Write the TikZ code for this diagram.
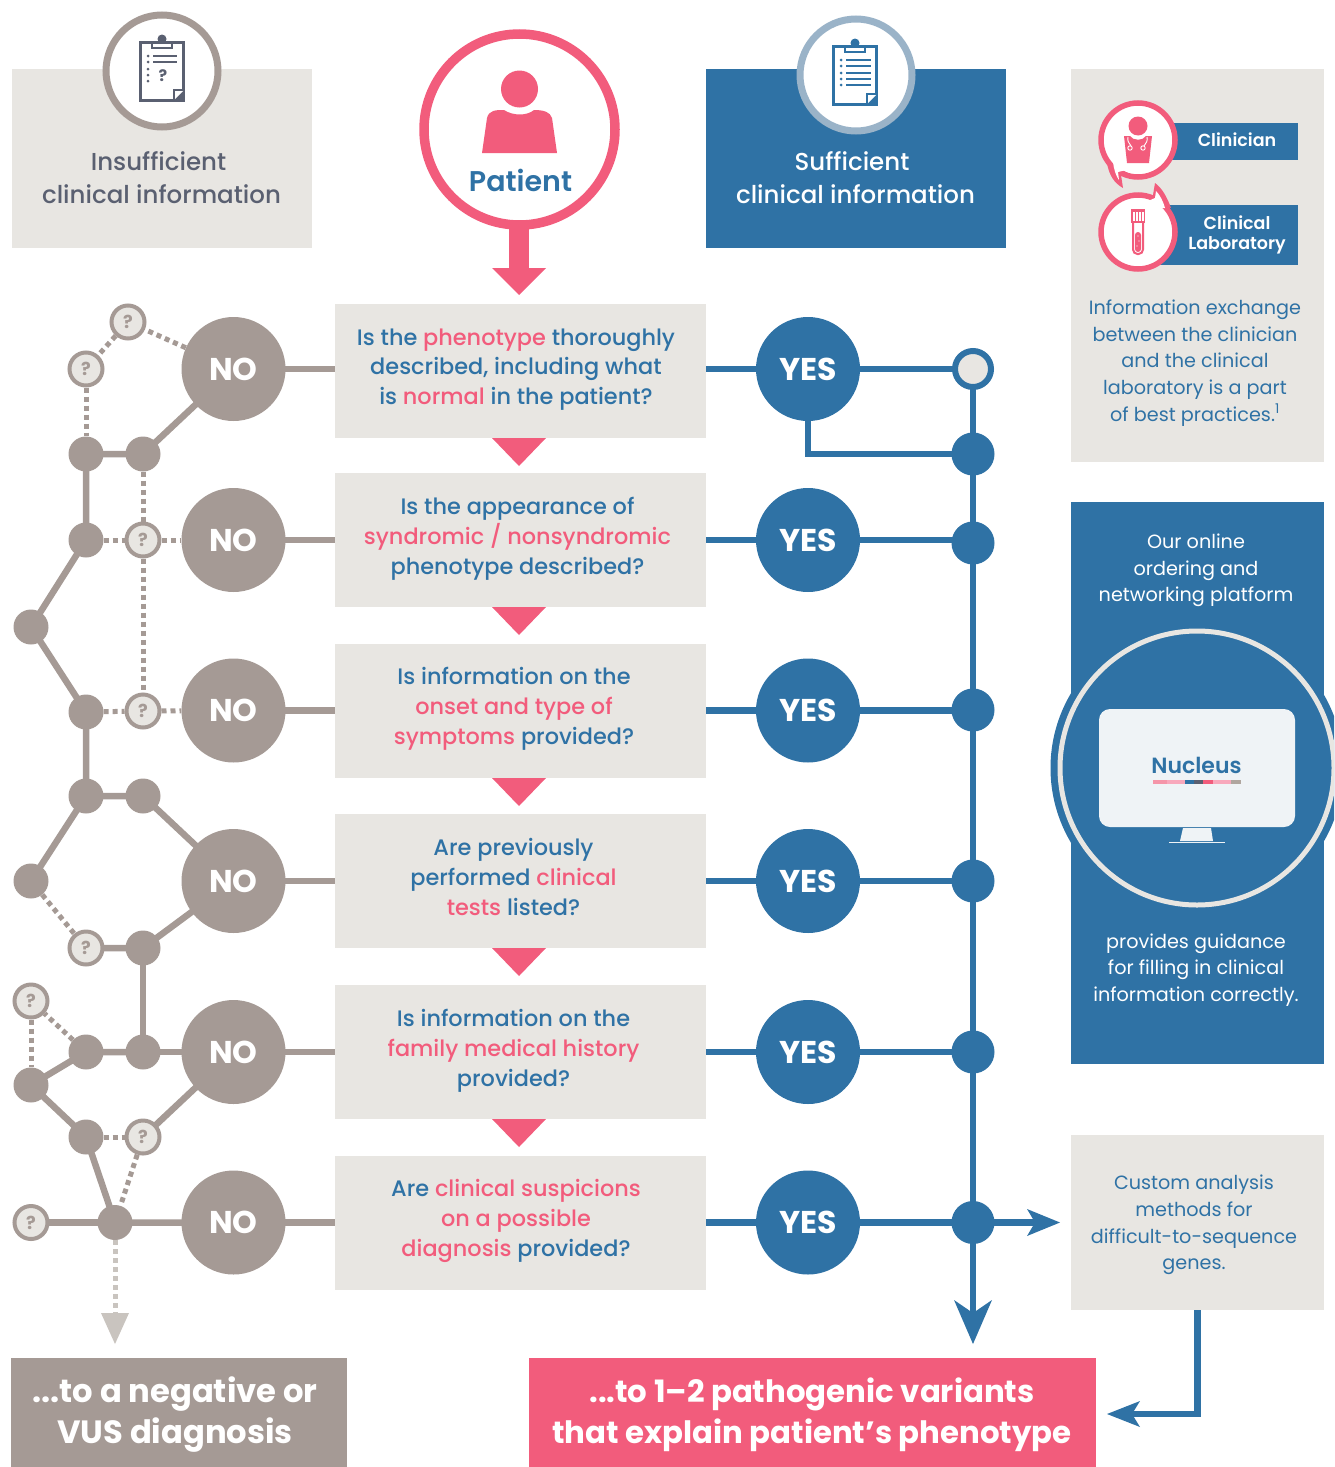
\documentclass[tikz,border=0pt]{standalone}
\usepackage{fontspec}
\setmainfont{Poppins}
\newfontfamily\medf{Poppins Medium}
\newfontfamily\semi{Poppins SemiBold}
\usetikzlibrary{backgrounds}
\definecolor{cpink}{HTML}{F25C7C}
\definecolor{cblue}{HTML}{2F72A5}
\definecolor{cgray}{HTML}{A59A95}
\definecolor{clight}{HTML}{E8E6E2}
\definecolor{cdark}{HTML}{5A6071}
\definecolor{cring}{HTML}{9AB3C8}
\definecolor{cfade}{HTML}{C9C4BF}
\definecolor{cscreen}{HTML}{EFF3F6}
\definecolor{cpa}{HTML}{F595A9}
\definecolor{cpb}{HTML}{F8A8BC}
\definecolor{ctan}{HTML}{B0A69F}
\newcommand{\px}[1]{\fontsize{#1}{#1}\selectfont}
\newcommand{\pk}[1]{\textcolor{cpink}{#1}}
\tikzset{
  panel/.style={draw=none,inner sep=0pt,outer sep=0pt},
  qbox/.style={panel,fill=clight,minimum width=371pt,minimum height=134pt},
  qtext/.style={align=center,text=cblue,inner sep=0pt,font=\fontsize{22.4}{29.8}\selectfont\medf},
  nocirc/.style={circle,fill=cgray,inner sep=0pt,minimum size=104pt,text=white,font=\px{31.5}\bfseries},
  yescirc/.style={circle,fill=cblue,inner sep=0pt,minimum size=104pt,text=white,font=\px{31.5}\bfseries},
  dot/.style={circle,fill=cgray,inner sep=0pt,minimum size=35pt},
  bdot/.style={circle,fill=cblue,inner sep=0pt,minimum size=43pt},
  qm/.style={circle,draw=cgray,line width=4pt,fill=clight,inner sep=0pt,minimum size=33pt,text=cgray,font=\px{18}\bfseries},
  sol/.style={draw=cgray,line width=6.5pt},
  dots/.style={draw=cgray,line width=5pt,dash pattern=on 5pt off 4pt},
  bl/.style={draw=cblue,line width=6.5pt},
  headtext/.style={align=center,inner sep=0pt,font=\fontsize{24.5}{33}\selectfont\medf},
  sidetext/.style={align=center,inner sep=0pt,font=\fontsize{19.2}{26.7}\selectfont},
  bigtext/.style={align=center,inner sep=0pt,text=white,font=\bfseries},
}
\newcommand{\myboard}[5]{%
  \begin{scope}[shift={(#1,#2)}]
    \draw[#3,line width=3pt,fill=white] (140.5,42.5) rectangle (183.5,100);
    \fill[#3] (162,39) circle (4.5);
    \draw[#3,line width=2pt,fill=white] (152,42.5) rectangle (172,48);
    \fill[#3] (173,89) rectangle (185,101.5);
    \fill[white] (175,99) -- (175,91) -- (183,91) -- cycle;
    #4
    #5
  \end{scope}}
\begin{document}
\begin{tikzpicture}[x=1pt,y=-1pt]
\useasboundingbox (0,0) rectangle (1334,1467);
% header panels
\node[panel,fill=clight,minimum width=300pt,minimum height=179pt] (hl) at (162,158.5) {};
\node[panel,fill=cblue,minimum width=300pt,minimum height=179pt] (hr) at (856,158.5) {};
\node[circle,draw=cgray,line width=7pt,fill=white,minimum size=112pt,inner sep=0pt] (cl) at (162,71) {};
\node[circle,draw=cring,line width=7pt,fill=white,minimum size=112pt,inner sep=0pt] (cr) at (856,75) {};
\myboard{0}{0}{cdark}{%
  \foreach \yy in {56,62,69,75,81} \fill[cdark] (148,\yy) circle (1.5);
  \draw[cdark,line width=1.8pt] (153,56) -- (177,56) (153,62) -- (177,62);}
  {\node[text=cdark,inner sep=0pt,font=\px{16}\bfseries] (bq) at (163,76) {?};}
\myboard{693}{4}{cblue}{%
  \foreach \yy in {56,62,69,75,81} {\fill[cblue] (148,\yy) circle (1.5); \draw[cblue,line width=1.8pt] (153,\yy) -- (178,\yy);}}{}
\node[headtext,text=cdark] (tl) at (161.5,178) {Insufficient\hspace*{6pt}\\clinical information};
\node[headtext,text=white] (tr) at (855.5,178) {Sufficient\hspace*{7pt}\\clinical information};
% patient
\fill[cpink] (509,220) rectangle (529,268);
\fill[cpink] (492,268) -- (546,268) -- (519,295) -- cycle;
\node[circle,draw=cpink,line width=9.5pt,fill=white,minimum size=191pt,inner sep=0pt] (pat) at (519.5,129.5) {};
\fill[cpink] (519.5,89) circle (18.5);
\fill[cpink] (482,153) -- (487,118) .. controls (489,110) and (496,110) .. (504,110) .. controls (513,116) and (527,116) .. (534,110) .. controls (544,110) and (550,112) .. (552,118) -- (557,153) -- cycle;
\node[inner sep=0pt,text=cblue,font=\px{28.5}\semi] (pt) at (520.5,180) {Patient};
% question boxes
\foreach \n/\yy in {1/371,2/540,3/711,4/881,5/1052,6/1223} {
  \node[qbox] (q\n) at (520.5,\yy) {};
}
\foreach \yy in {438,607,778,948,1119} {
  \fill[cpink] (492,\yy) -- (546,\yy) -- (519,\yy+28) -- cycle;
}
\node[qtext] (t1) at (516,369.5) {Is the \pk{phenotype} thoroughly\\described, including what\\is \pk{normal} in the patient?};
\node[qtext] (t2) at (517.5,538.5) {Is the appearance of\\\pk{syndromic / nonsyndromic}\\phenotype described?};
\node[qtext] (t3) at (514,709) {Is information on the\\\pk{onset and type of}\\\pk{symptoms} provided?};
\node[qtext] (t4) at (513.5,879.5) {Are previously\\performed \pk{clinical}\\\pk{tests} listed?\vphantom{py}};
\node[qtext] (t5) at (513.5,1050.5) {Is information on the\\\pk{family medical history}\\provided?};
\node[qtext] (t6) at (516,1221) {Are \pk{clinical suspicions}\\\pk{on a possible}\\\pk{diagnosis} provided?};
% NO and YES
\foreach \n/\yy in {1/369,2/540,3/710.5,4/881,5/1052,6/1222.5} {
  \node[nocirc] (no\n) at (233.5,\yy) {NO};
  \node[yescirc] (yes\n) at (808,\yy) {YES};
}
% network nodes
\node[qm] (a1) at (128,322) {?};
\node[qm] (a2) at (86,369) {?};
\node[dot] (b1) at (86,454) {};
\node[dot] (b2) at (143,454) {};
\node[dot] (c1) at (86,540) {};
\node[qm] (c2) at (143,540) {?};
\node[dot] (d0) at (31,627) {};
\node[dot] (d1) at (86,712) {};
\node[qm] (d2) at (143,711) {?};
\node[dot] (e1) at (86,796) {};
\node[dot] (e2) at (143,796) {};
\node[dot] (f0) at (31,881) {};
\node[qm] (f1) at (86,948) {?};
\node[dot] (f2) at (143,948) {};
\node[qm] (g0) at (31,1001) {?};
\node[dot] (g1) at (86,1052) {};
\node[dot] (g2) at (143,1052) {};
\node[dot] (h0) at (31,1085) {};
\node[dot] (h1) at (86,1137) {};
\node[qm] (h2) at (143,1137) {?};
\node[qm] (i0) at (31,1222.5) {?};
\node[dot] (i1) at (115,1222.5) {};
\coordinate (tipg) at (115,1344);
% blue trunk nodes
\node[circle,draw=cblue,line width=6pt,fill=clight,minimum size=36pt,inner sep=0pt] (top) at (973,369) {};
\node[bdot] (v1) at (973,454) {};
\node[bdot] (v2) at (973,543) {};
\node[bdot] (v3) at (973,710) {};
\node[bdot] (v4) at (973,881) {};
\node[bdot] (v5) at (973,1052) {};
\node[bdot] (v6) at (973,1222.5) {};
\coordinate (tipb) at (973,1344);
\coordinate (tipr) at (1060,1222.5);
\begin{pgfonlayer}{background}
  \foreach \n in {1,...,6} {
    \draw[sol] (no\n.center) -- (q\n.west |- no\n.center);
    \draw[bl] (yes\n.center) -- (q\n.east |- yes\n.center);
  }
  \draw[sol] (no1.center) -- (b2.center) -- (b1.center) -- (c1.center) -- (d0.center) -- (d1.center) -- (e1.center) -- (e2.center) -- (no4.center);
  \draw[sol] (e1.center) -- (f0.center);
  \draw[sol] (f1.center) -- (f2.center) -- (no4.center);
  \draw[sol] (f2.center) -- (g2.center) -- (no5.center);
  \draw[sol] (g2.center) -- (g1.center) -- (h0.center) -- (h1.center) -- (i1.center) -- (no6.center);
  \draw[sol] (i0.center) -- (i1.center);
  \draw[sol] (h2.center) -- (no5.center);
  \draw[dots] (no1) -- (a1) ;
  \draw[dots] (a1) -- (a2);
  \draw[dots] (a2) -- (b1);
  \draw[dots] (b2) -- (c2);
  \draw[dots] (c2) -- (d2);
  \draw[dots] (c1) -- (c2);
  \draw[dots] (c2) -- (no2);
  \draw[dots] (d1) -- (d2);
  \draw[dots] (d2) -- (no3);
  \draw[dots] (f0) -- (f1);
  \draw[dots] (g1) -- (g0);
  \draw[dots] (g0) -- (h0);
  \draw[dots] (h1) -- (h2);
  \draw[dots] (h2) -- (i1);
  \draw[cfade,line width=5pt,dash pattern=on 5pt off 4pt] (i1) -- (115,1314);
  \fill[cfade] (101,1313) -- (129,1313) -- (tipg) -- cycle;
  % blue
  \draw[bl] (yes1.center) -- (top.center) -- (973,1320);
  \draw[bl] (yes1.center) -- (808,454) -- (v1.center);
  \foreach \n in {2,...,6} \draw[bl] (yes\n.center) -- (v\n.center |- yes\n.center);
  \draw[bl] (v6.center) -- (1040,1222.5);
  \fill[cblue] (tipr) -- (1027,1209) -- (1035,1222.5) -- (1027,1236) -- cycle;
  \fill[cblue] (tipb) -- (954,1300) -- (973,1313) -- (992,1300) -- cycle;
\end{pgfonlayer}
% side panel 1
\node[panel,fill=clight,minimum width=253pt,minimum height=393pt] (s1) at (1197.5,265.5) {};
\fill[cblue] (1150,123) rectangle (1298,160);
\fill[cblue] (1150,205) rectangle (1298,265);
\node[circle,draw=cpink,line width=5.5pt,fill=white,minimum size=74pt,inner sep=0pt] (clin) at (1138,140) {};
\fill[cpink] (1107,163) .. controls (1109,175) and (1114,183) .. (1123,188) -- (1121,175) -- (1130,174) -- cycle;
\fill[white] (1113,162) .. controls (1114,170) and (1116,176) .. (1119,180) -- (1118,172) -- (1126,170) -- (1122,158) -- cycle;
\node[circle,draw=cpink,line width=5.5pt,fill=white,minimum size=74pt,inner sep=0pt] (lab) at (1138,232) {};
\fill[cpink] (1155,183) .. controls (1162,188) and (1167,197) .. (1171,208) -- (1160,206) -- (1150,196) -- (1153,195) -- cycle;
\fill[white] (1156,191) .. controls (1160,195) and (1163,201) .. (1165,208) -- (1156,208) -- (1148,201) -- (1155,198) -- cycle;
% clinician icon
\fill[cpink] (1138,126) circle (9.5);
\fill[cpink] (1124,136) -- (1130,136) .. controls (1133,141) and (1143,141) .. (1146,136) -- (1152,136) -- (1149,163) -- (1127,163) -- cycle;
\draw[white,line width=0.9pt] (1128,137) .. controls (1127,141) and (1129,143) .. (1131,146);
\draw[white,line width=0.9pt] (1147,137) .. controls (1148,141) and (1146,143) .. (1144,146);
\draw[white,line width=0.9pt] (1130,148) circle (2.2) (1143,148) circle (2.2);
% tube icon
\fill[cpink] (1131,209) rectangle (1145,223);
\foreach \xx in {1134,1137,1140,1143} \fill[white] (\xx-0.6,211.5) rectangle (\xx+0.6,221);
\draw[cpink,line width=2pt,fill=white,rounded corners=4.5pt] (1133,223) -- (1133,254) -- (1143,254) -- (1143,223);
\fill[cpink,rounded corners=3pt] (1135,232) -- (1135,252) -- (1141,252) -- (1141,232) -- cycle;
\fill[white] (1138,236) circle (0.7) (1139,241) circle (0.7) (1137,246) circle (0.7);
\node[inner sep=0pt,text=white,font=\px{17.5}\semi] (lc) at (1237,140) {Clinician};
\node[inner sep=0pt,align=center,text=white,font=\fontsize{17.5}{19.5}\selectfont\semi] (ll) at (1237,235) {Clinical\\Laboratory};
\node[sidetext,text=cblue] (st1) at (1195,363) {Information exchange\\between the clinician\\and the clinical\\laboratory is a part\\of best practices.\textsuperscript{1}};
% side panel 2
\node[panel,fill=cblue,minimum width=253pt,minimum height=562pt] (s2) at (1197.5,783) {};
\node[sidetext,text=white] (st2) at (1196,570.5) {Our online\\ordering and\\networking platform};
\node[sidetext,text=white] (st3) at (1196,970) {provides guidance\\for filling in clinical\\information correctly.};
\begin{scope}
  \clip (0,0) rectangle (1334,1467);
  \fill[cblue] (1197,768) circle (146.5);
  \draw[clight,line width=5pt] (1197,768) circle (137);
\end{scope}
\node[panel,fill=cscreen,minimum width=196pt,minimum height=118pt,rounded corners=11pt] (mon) at (1197,768) {};
\fill[cscreen] (1183,828) -- (1211,828) -- (1213,841) -- (1180,841) -- cycle;
\draw[cscreen,line width=1.2pt] (1169,842.5) -- (1225,842.5);
\node[inner sep=0pt,text=cblue,font=\px{22}\semi] (nuc) at (1196.5,765) {Nucleus};
\fill[cpa] (1153,780) rectangle (1167,784);
\fill[cpb] (1167,780) rectangle (1185,784);
\fill[cblue] (1185,780) rectangle (1194,784);
\fill[cdark] (1194,780) rectangle (1203,784);
\fill[cpink] (1203,780) rectangle (1213,784);
\fill[cpb] (1213,780) rectangle (1231,784);
\fill[ctan] (1231,780) rectangle (1241,784);
% side panel 3
\node[panel,fill=clight,minimum width=253pt,minimum height=175pt] (s3) at (1197.5,1222.5) {};
\node[sidetext,text=cblue] (st4) at (1194,1225) {Custom analysis\\methods for\\difficult-to-sequence\\genes.};
% outcomes
\node[panel,fill=cgray,minimum width=336pt,minimum height=109pt] (ol) at (179,1412.5) {};
\node[panel,fill=cpink,minimum width=567pt,minimum height=109pt] (or) at (812.5,1412.5) {};
\node[bigtext,font=\fontsize{32.2}{41}\selectfont\bfseries] (olt) at (175,1415) {...to a negative or\\VUS diagnosis};
\node[bigtext,font=\fontsize{30.8}{41}\selectfont\bfseries] (ort) at (812,1415) {...to 1–2 pathogenic variants\\that explain patient’s phenotype};
\coordinate (tipo) at (1107,1414);
\draw[bl] (s3.south) -- (s3.south |- tipo) -- (1130,1414);
\fill[cblue] (tipo) -- (1140,1401) -- (1132,1414) -- (1140,1427) -- cycle;
\end{tikzpicture}
\end{document}
